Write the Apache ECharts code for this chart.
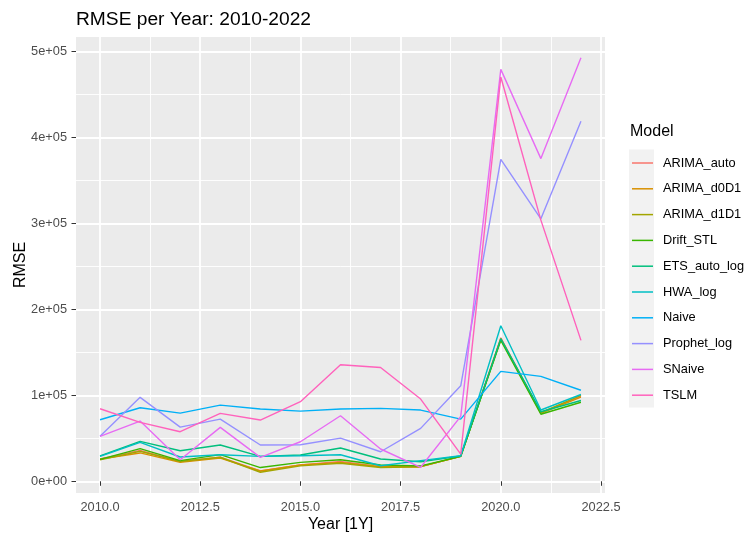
<!DOCTYPE html>
<html>
<head>
<meta charset="utf-8">
<script src="https://cdn.jsdelivr.net/npm/echarts@6/dist/echarts.min.js"></script>
<style>
  html, body { margin: 0; padding: 0; background: #ffffff; }
  #chart { width: 745px; height: 538px; }
</style>
</head>
<body>
<div id="chart"></div>
<script>
// Yearly RMSE of each forecasting model, 2010-2022
const years = [2010, 2011, 2012, 2013, 2014, 2015, 2016, 2017, 2018, 2019, 2020, 2021, 2022];

const modelNames = ['ARIMA_auto', 'ARIMA_d0D1', 'ARIMA_d1D1', 'Drift_STL', 'ETS_auto_log',
                    'HWA_log', 'Naive', 'Prophet_log', 'SNaive', 'TSLM'];
const modelColors = ['#F8766D', '#D89000', '#A3A500', '#39B600', '#00BF7D',
                     '#00BFC4', '#00B0F6', '#9590FF', '#E76BF3', '#FF62BC'];

const ARIMA_auto   = [26000, 36000, 23000, 28000, 12000, 19000, 23000, 17000, 17000, 29000, 167000, 80000, 99000];
const ARIMA_d0D1   = [26000, 33000, 22000, 27000, 12000, 19000, 22000, 17000, 17000, 29000, 166000, 79000, 98000];
const ARIMA_d1D1   = [25000, 35000, 23000, 28000, 10500, 18000, 21000, 16000, 17000, 29000, 165000, 80000, 100000];
const Drift_STL    = [25500, 38000, 24000, 31000, 16000, 22000, 25000, 19000, 18000, 29000, 164000, 78000, 92000];
const ETS_auto_log = [29500, 46500, 35600, 42200, 29000, 30600, 38700, 25900, 22800, 29500, 166000, 81000, 94000];
const HWA_log      = [29000, 45300, 28300, 30900, 29000, 29800, 30900, 18100, 24000, 29800, 181000, 83000, 101000];
const Naive        = [71600, 85600, 79400, 88700, 84100, 81700, 84100, 84900, 82900, 72400, 127900, 122100, 106000];
const Prophet_log  = [52300, 97700, 63100, 72400, 42200, 42600, 50300, 34400, 61600, 111200, 374800, 305500, 419000];
const SNaive       = [52300, 70100, 25100, 62800, 27900, 46000, 76300, 37600, 16300, 75600, 479400, 375600, 493000];
const TSLM         = [84400, 68600, 57700, 79000, 71300, 92600, 135600, 132500, 95700, 31700, 470500, 304000, 164000];

const modelValues = [ARIMA_auto, ARIMA_d0D1, ARIMA_d1D1, Drift_STL, ETS_auto_log,
                     HWA_log, Naive, Prophet_log, SNaive, TSLM];

// Tick positions and labels
const xTicks = [2010, 2012.5, 2015, 2017.5, 2020, 2022.5];
const xMinorTicks = [2011.25, 2013.75, 2016.25, 2018.75, 2021.25];
const yTicks = [0, 100000, 200000, 300000, 400000, 500000];
const yTickLabels = ['0e+00', '1e+05', '2e+05', '3e+05', '4e+05', '5e+05'];
const yMinorTicks = [50000, 150000, 250000, 350000, 450000];

const FONT = '"Liberation Sans", Arial, sans-serif';

// 5% padding around the data range on both axes
const allVals = modelValues.flat();
const yLo = Math.min(...allVals), yHi = Math.max(...allVals);
const yPad = (yHi - yLo) * 0.05;
const xLo = years[0], xHi = years[years.length - 1];
const xPad = (xHi - xLo) * 0.05;
const xMin = xLo - xPad, xMax = xHi + xPad;
const yMin = yLo - yPad, yMax = yHi + yPad;

const chart = echarts.init(document.getElementById('chart'), null, { renderer: 'canvas' });

const series = modelNames.map((name, k) => ({
  name: name,
  type: 'line',
  data: years.map((yr, i) => [yr, modelValues[k][i]]),
  symbol: 'none',
  showSymbol: false,
  lineStyle: { width: 1.4, color: modelColors[k] },
  itemStyle: { color: modelColors[k] },
  emphasis: { disabled: true },
  silent: true,
  z: 3
}));

const option = {
  animation: false,
  backgroundColor: '#ffffff',
  title: [
    {
      text: 'RMSE per Year: 2010-2022',
      left: 76, top: 10, padding: 0,
      textStyle: { fontFamily: FONT, fontSize: 19.2, fontWeight: 'normal', color: '#000000' }
    },
    {
      text: 'Model',
      left: 630, top: 124, padding: 0,
      textStyle: { fontFamily: FONT, fontSize: 16, fontWeight: 'normal', color: '#000000' }
    }
  ],
  grid: {
    left: 76, right: 140, top: 37, bottom: 45,
    show: true, backgroundColor: '#EBEBEB', borderWidth: 0,
    containLabel: false,
    outerBoundsMode: 'none'
  },
  xAxis: [
    {
      type: 'value', min: xMin, max: xMax,
      name: 'Year [1Y]', nameLocation: 'middle', nameGap: 24, nameMoveOverlap: false,
      nameTextStyle: { fontFamily: FONT, fontSize: 16, color: '#000000' },
      axisLine: { show: false },
      axisTick: { show: true, length: 4.5, customValues: xTicks, lineStyle: { color: '#333333', width: 1 } },
      axisLabel: {
        customValues: xTicks, margin: 8, hideOverlap: false,
        fontFamily: FONT, fontSize: 12.8, color: '#4D4D4D',
        formatter: v => Number(v).toFixed(1)
      },
      splitLine: { show: true, lineStyle: { color: '#FFFFFF', width: 1.8 } }
    },
    {
      type: 'value', min: xMin, max: xMax, position: 'top',
      axisLine: { show: false },
      axisTick: { show: false, customValues: xMinorTicks },
      axisLabel: { show: false, customValues: xMinorTicks },
      splitLine: { show: true, lineStyle: { color: '#FFFFFF', width: 0.9 } }
    }
  ],
  yAxis: [
    {
      type: 'value', min: yMin, max: yMax,
      name: 'RMSE', nameLocation: 'middle', nameGap: 47, nameRotate: 90, nameMoveOverlap: false,
      nameTextStyle: { fontFamily: FONT, fontSize: 16, color: '#000000' },
      axisLine: { show: false },
      axisTick: { show: true, length: 4.5, customValues: yTicks, lineStyle: { color: '#333333', width: 1 } },
      axisLabel: {
        customValues: yTicks, margin: 9, hideOverlap: false,
        fontFamily: FONT, fontSize: 12.8, color: '#4D4D4D',
        formatter: v => {
          const idx = yTicks.indexOf(Math.round(v));
          return idx >= 0 ? yTickLabels[idx] : '';
        }
      },
      splitLine: { show: true, lineStyle: { color: '#FFFFFF', width: 1.8 } }
    },
    {
      type: 'value', min: yMin, max: yMax, position: 'left',
      axisLine: { show: false },
      axisTick: { show: false, customValues: yMinorTicks },
      axisLabel: { show: false, customValues: yMinorTicks },
      splitLine: { show: true, lineStyle: { color: '#FFFFFF', width: 0.9 } }
    }
  ],
  legend: {
    orient: 'vertical',
    left: 632, top: 156,
    padding: 0,
    icon: 'rect',
    itemWidth: 21, itemHeight: 1.5, itemGap: 11.8,
    selectedMode: false,
    data: modelNames,
    textStyle: { fontFamily: FONT, fontSize: 12.8, lineHeight: 14, color: '#000000', padding: [0, 0, 0, 5] }
  },
  // grey backing behind the legend keys
  graphic: [
    {
      type: 'rect', left: 629, top: 149.5, z: 0, silent: true,
      shape: { width: 25, height: 258 },
      style: { fill: '#F2F2F2' }
    }
  ],
  series: series
};

chart.setOption(option);
</script>
</body>
</html>
